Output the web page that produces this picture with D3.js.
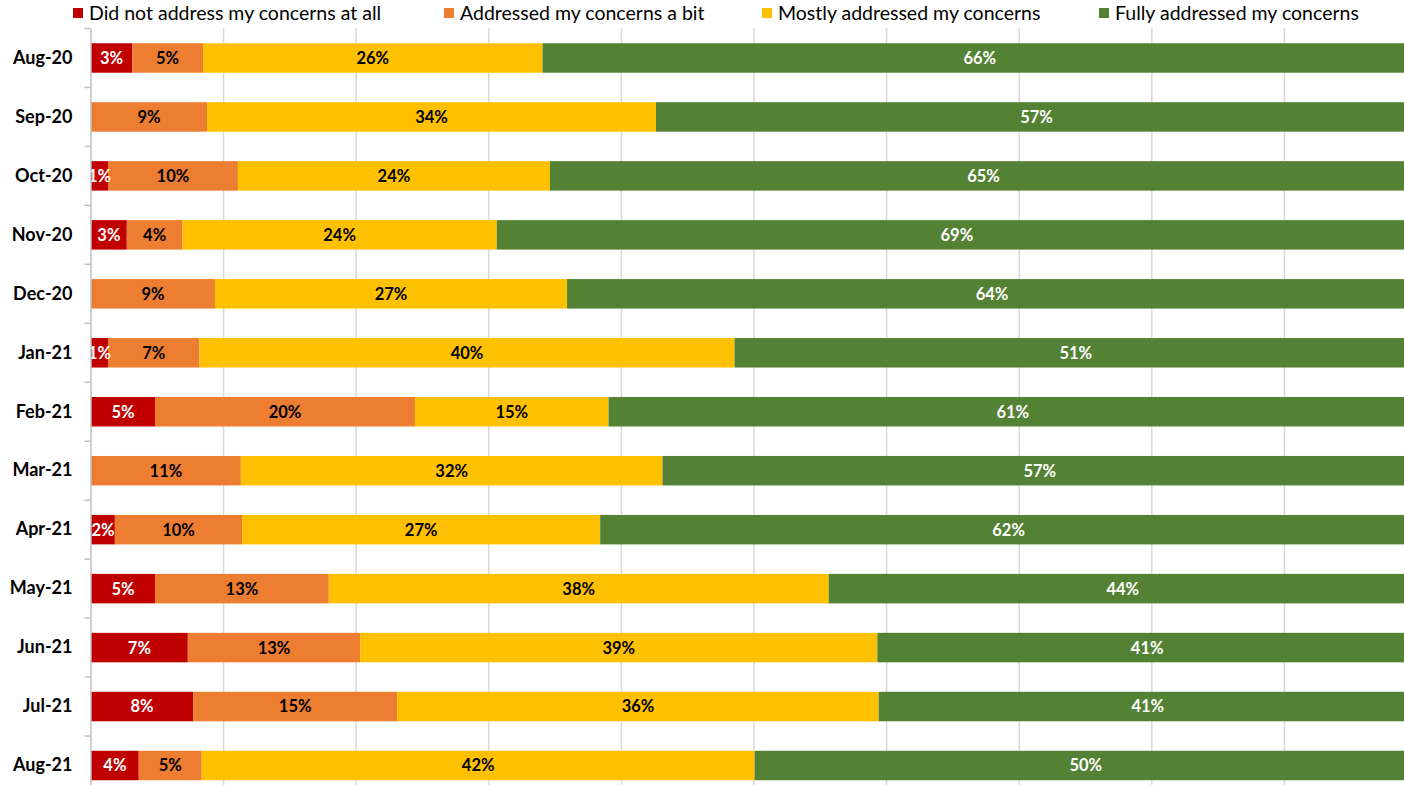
<!DOCTYPE html>
<html>
<head>
<meta charset="utf-8">
<script src="https://cdn.jsdelivr.net/npm/d3@7"></script>
<style>
  html, body { margin: 0; padding: 0; background: #fff; }
  svg { display: block; }
  text { font-family: Lato, "Open Sans", sans-serif; }
</style>
</head>
<body>
<script>
// ---- data ----
const categories = ["Aug-20","Sep-20","Oct-20","Nov-20","Dec-20","Jan-21","Feb-21","Mar-21","Apr-21","May-21","Jun-21","Jul-21","Aug-21"];
const seriesNames = ["Did not address my concerns at all","Addressed my concerns a bit","Mostly addressed my concerns","Fully addressed my concerns"];
const notAtAll   = [3.1, 0,    1.28, 2.7,  0,    1.28, 4.83, 0,    1.8,  4.83, 7.3,  7.7,  3.6];
const aBit       = [5.35,8.75, 9.8,  4.2,  9.35, 6.9,  19.6, 11.3, 9.6,  13.1, 13.0, 15.4, 4.75];
const mostly     = [25.6,33.86,23.53,23.7, 26.55,40.35,14.6, 31.8, 27.0, 37.7, 39.0, 36.3, 41.7];
const fully      = [65.95,57.4,65.4, 69.4, 64.1, 51.47,61.0, 56.9, 61.6, 44.4, 40.7, 40.6, 49.95];
const colors = ["#C00000","#ED7D31","#FFC000","#548235"];
const labelColors = ["#ffffff","#000000","#000000","#ffffff"];
const xTicks = [0,10,20,30,40,50,60,70,80,90,100];

const W = 1404, H = 785;
const svg = d3.select("body").append("svg").attr("width", W).attr("height", H);

const x = d3.scaleLinear().domain([0,100]).range([91, 1417]);
const y = d3.scaleBand().domain(categories).range([28.5, 28.5 + 58.96*13]).paddingInner(0.5).paddingOuter(0.25);

// gridlines
svg.append("g").selectAll("line").data(xTicks.slice(1)).join("line")
  .attr("x1", d => x(d)).attr("x2", d => x(d))
  .attr("y1", 28).attr("y2", H)
  .attr("stroke", "#d9d9d9").attr("stroke-width", 1.5);

// stacked data
const rows = categories.map((c,i) => ({cat:c, s0:notAtAll[i], s1:aBit[i], s2:mostly[i], s3:fully[i]}));
const stack = d3.stack().keys(["s0","s1","s2","s3"]);
const layers = stack(rows);

const g = svg.append("g");
layers.forEach((layer, li) => {
  g.append("g").selectAll("rect").data(layer).join("rect")
    .attr("x", d => x(d[0]))
    .attr("width", d => x(d[1]) - x(d[0]))
    .attr("y", d => y(d.data.cat))
    .attr("height", y.bandwidth())
    .attr("fill", colors[li]);
});
layers.forEach((layer, li) => {
  g.append("g").selectAll("text").data(layer.filter(d => d[1]-d[0] > 0)).join("text")
    .attr("x", d => (x(d[0]) + Math.min(x(d[1]), 1417)) / 2)
    .attr("y", d => y(d.data.cat) + y.bandwidth()/2)
    .attr("dy", "0.36em")
    .attr("text-anchor", "middle")
    .attr("font-size", 16.5)
    .attr("font-weight", "bold")
    .attr("fill", labelColors[li])
    .text(d => Math.round(d[1]-d[0]) + "%");
});

// y axis
const yAxis = d3.axisLeft(y).tickSize(0).tickPadding(18);
const ya = svg.append("g").attr("transform", "translate(90.5,0)").call(yAxis);
ya.select(".domain").attr("stroke", "#bfbfbf").attr("stroke-width", 1.5);
ya.selectAll("text").attr("font-size", 18).attr("font-weight", "bold").attr("fill", "#000")
  .attr("font-family", "Lato, sans-serif");
// category boundary ticks
const bounds = d3.range(0, categories.length + 1).map(i => 28.5 + 58.96*i);
ya.append("g").selectAll("line").data(bounds).join("line")
  .attr("x1", -6).attr("x2", 0)
  .attr("y1", d => d).attr("y2", d => d)
  .attr("stroke", "#bfbfbf").attr("stroke-width", 1.5);

// legend
const legendX = [73, 444, 762, 1099];
const lg = svg.append("g");
seriesNames.forEach((n, i) => {
  lg.append("rect").attr("x", legendX[i]).attr("y", 8).attr("width", 10).attr("height", 10).attr("fill", colors[i]);
  lg.append("text").attr("x", legendX[i] + 16).attr("y", 13).attr("dy", "0.36em")
    .attr("font-size", 19.5).attr("fill", "#000").text(n);
});
</script>
</body>
</html>
